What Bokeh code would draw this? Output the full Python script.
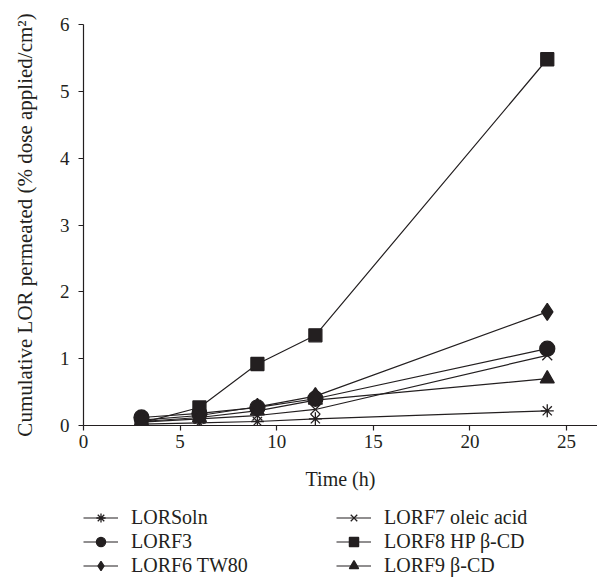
from bokeh.plotting import figure
from bokeh.models import Legend, LegendItem, Title, FixedTicker, Range1d
from bokeh.layouts import column
from bokeh.embed import file_html
from bokeh.resources import INLINE

time_h = [3, 6, 9, 12, 24]
lorsoln = [0.02, 0.04, 0.06, 0.10, 0.22]
lorf3 = [0.12, 0.18, 0.27, 0.40, 1.15]
lorf6 = [0.08, 0.15, 0.28, 0.44, 1.70]
lorf7 = [0.05, 0.10, 0.15, 0.24, 1.05]
lorf8 = [0.04, 0.27, 0.92, 1.35, 5.48]
lorf9 = [0.06, 0.12, 0.22, 0.38, 0.70]

series_names = ["LORSoln", "LORF3", "LORF6 TW80", "LORF7 oleic acid", "LORF8 HP β-CD", "LORF9 β-CD"]
series_values = [lorsoln, lorf3, lorf6, lorf7, lorf8, lorf9]
markers = ["asterisk", "circle", "diamond", "x", "square", "triangle"]
marker_sizes = [13, 15, 17, 14, 13, 14]

x_ticks = [0, 5, 10, 15, 20, 25]
y_ticks = [0, 1, 2, 3, 4, 5, 6]

INK = "#231f20"
FONT = "Liberation Serif"

p = figure(width=597, height=505, output_backend="svg", toolbar_location=None,
           x_range=Range1d(0, 26.6), y_range=Range1d(0, 6),
           min_border_left=83, min_border_right=0, min_border_top=24, min_border_bottom=80)
p.outline_line_color = None
p.xgrid.visible = False
p.ygrid.visible = False

for ax in (p.xaxis[0], p.yaxis[0]):
    ax.axis_line_color = INK
    ax.axis_line_width = 1.2
    ax.major_tick_line_color = INK
    ax.major_tick_line_width = 1.2
    ax.major_tick_out = 5
    ax.major_tick_in = 0
    ax.minor_tick_line_color = None
    ax.major_label_text_font = FONT
    ax.major_label_text_font_size = "19px"
    ax.major_label_text_color = INK
    ax.axis_label_text_font = FONT
    ax.axis_label_text_font_style = "normal"
    ax.axis_label_text_color = INK

p.xaxis[0].ticker = FixedTicker(ticks=x_ticks)
p.yaxis[0].ticker = FixedTicker(ticks=y_ticks)
p.xaxis[0].major_label_standoff = 4
p.yaxis[0].major_label_standoff = 9
p.yaxis[0].axis_label = "Cumulative LOR permeated (% dose applied/cm²)"
p.yaxis[0].axis_label_text_font_size = "21px"
p.yaxis[0].axis_label_standoff = 20

p.add_layout(Title(text="Time (h)", align="center", offset=-15, standoff=31,
                   text_font=FONT, text_font_size="20px", text_font_style="normal",
                   text_color=INK), "below")

for name, vals, mk, sz in zip(series_names, series_values, markers, marker_sizes):
    p.line(time_h, vals, line_color=INK, line_width=1.2)
    p.scatter(time_h, vals, marker=mk, size=sz, fill_color=INK, line_color=INK, line_width=1.3)

# legend panel below the chart (its sample glyphs come from renderers kept out of view)
p2 = figure(width=597, height=72, output_backend="svg", toolbar_location=None,
            x_range=Range1d(-100, -99), y_range=Range1d(-100, -99),
            x_axis_location=None, y_axis_location=None, min_border=0)
p2.grid.visible = False
p2.outline_line_color = None

items = []
for name, vals, mk, sz in zip(series_names, series_values, markers, marker_sizes):
    ln = p2.line(time_h, vals, line_color=INK, line_width=1.2)
    sc = p2.scatter(time_h, vals, marker=mk, size=sz, fill_color=INK, line_color=INK, line_width=1.3)
    items.append(LegendItem(label=name, renderers=[ln, sc]))

legend = Legend(items=items, location=(0, 0), orientation="vertical", ncols=2,
                glyph_width=35, glyph_height=23, label_standoff=13, label_width=204,
                label_height=23, spacing=1, padding=0, margin=0,
                label_text_font=FONT, label_text_font_size="20px", label_text_color=INK,
                border_line_color=None, background_fill_alpha=0)
p2.add_layout(legend, "center")

open("out.html", "w").write(file_html(column(p, p2, spacing=0), INLINE))
